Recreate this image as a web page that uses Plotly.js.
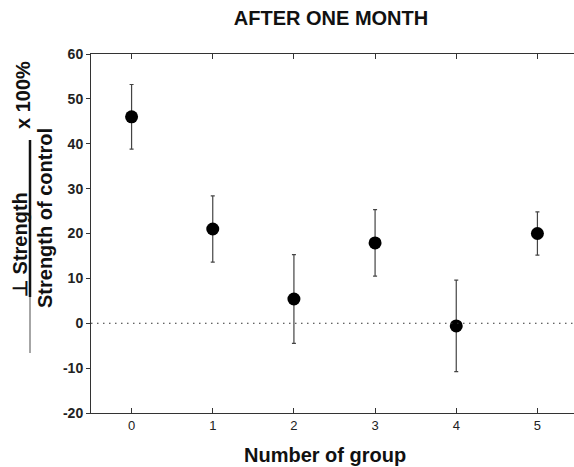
<!DOCTYPE html>
<html>
<head>
<meta charset="utf-8">
<script src="https://cdn.plot.ly/plotly-3.0.1.min.js"></script>
<style>
html, body { margin: 0; padding: 0; overflow: hidden; background: #fff; }
#chart { width: 580px; height: 467px; }
</style>
</head>
<body>
<div id="chart"></div>
<script>
// Data
const groups = [0, 1, 2, 3, 4, 5];
const strengthChange = [46, 21, 5.4, 17.9, -0.6, 20];
const errorHalf = [7.2, 7.4, 9.9, 7.4, 10.2, 4.8];
const yTickValues = [-20, -10, 0, 10, 20, 30, 40, 50, 60];
const yTickLabels = ['-20', '-10', '0', '10', '20', '30', '40', '50', '60'];
const xTickLabels = ['0', '1', '2', '3', '4', '5'];

const W = 580, H = 467;
const M = { l: 91, r: 2, t: 54, b: 54 };
const PW = W - M.l - M.r, PH = H - M.t - M.b;
const px = v => (v - M.l) / PW;          // pixel x -> paper x
const py = v => (H - M.b - v) / PH;      // pixel y -> paper y

const FONT = 'Liberation Sans, Arial, sans-serif';

const trace = {
  type: 'scatter',
  mode: 'markers',
  x: groups,
  y: strengthChange,
  marker: { color: '#000', size: 13 },
  error_y: { type: 'data', array: errorHalf, visible: true, color: '#444', thickness: 1.2, width: 2 },
  hoverinfo: 'x+y'
};

const layout = {
  width: W, height: H,
  margin: M,
  paper_bgcolor: '#fff', plot_bgcolor: '#fff',
  showlegend: false,
  font: { family: FONT, color: '#111' },
  title: {
    text: 'AFTER ONE MONTH',
    font: { family: FONT, size: 20, weight: 'bold', color: '#111' },
    xref: 'container', x: 331 / W, xanchor: 'center',
    yref: 'container', y: 1 - 18 / H, yanchor: 'middle'
  },
  xaxis: {
    range: [-0.5, 5.5],
    tickvals: groups, ticktext: xTickLabels,
    ticks: 'inside', ticklen: 5, tickcolor: '#333',
    showline: true, linecolor: '#333', linewidth: 1, mirror: 'ticks',
    showgrid: false, zeroline: false,
    tickfont: { family: FONT, size: 13, color: '#222' }
  },
  yaxis: {
    range: [-20, 60],
    tickvals: yTickValues, ticktext: yTickLabels,
    ticks: 'outside', ticklen: 4, tickcolor: '#333',
    showline: true, linecolor: '#333', linewidth: 1,
    showgrid: false, zeroline: false,
    tickfont: { family: FONT, size: 14, weight: 'bold', color: '#222' }
  },
  yaxis2: {
    overlaying: 'y', side: 'right', range: [-20, 60],
    tickvals: yTickValues, ticks: 'inside', ticklen: 5, tickcolor: '#333',
    showticklabels: false, showline: true, linecolor: '#333', linewidth: 1,
    showgrid: false, zeroline: false
  },
  shapes: [
    { type: 'line', xref: 'paper', yref: 'y', x0: 0, x1: 1, y0: 0, y1: 0,
      line: { color: '#333', width: 1, dash: '1.5px,4.5px' } },
    { type: 'line', xref: 'paper', yref: 'paper', x0: px(30), x1: px(30), y0: py(140), y1: py(297),
      line: { color: '#111', width: 2.5 } },
    { type: 'line', xref: 'paper', yref: 'paper', x0: px(30), x1: px(30), y0: py(297), y1: py(353),
      line: { color: '#888', width: 1.5 } }
  ],
  annotations: [
    { text: '<b>Number of group</b>', xref: 'paper', yref: 'paper', x: px(324.5), y: py(455),
      xanchor: 'center', yanchor: 'middle', showarrow: false,
      font: { family: FONT, size: 20, color: '#111' } },
    { text: '<b>x 100%</b>', xref: 'paper', yref: 'paper', x: px(23), y: py(95),
      xanchor: 'center', yanchor: 'middle', textangle: -90, showarrow: false,
      font: { family: FONT, size: 20, color: '#111' } },
    { text: '<b>⊥ Strength</b>', xref: 'paper', yref: 'paper', x: px(20), y: py(245),
      xanchor: 'center', yanchor: 'middle', textangle: -90, showarrow: false,
      font: { family: FONT, size: 20, color: '#111' } },
    { text: '<b>Strength of control</b>', xref: 'paper', yref: 'paper', x: px(45), y: py(218),
      xanchor: 'center', yanchor: 'middle', textangle: -90, showarrow: false,
      font: { family: FONT, size: 20, color: '#111' } }
  ]
};

Plotly.newPlot('chart', [trace], layout, { displayModeBar: false, staticPlot: true });
</script>
</body>
</html>
